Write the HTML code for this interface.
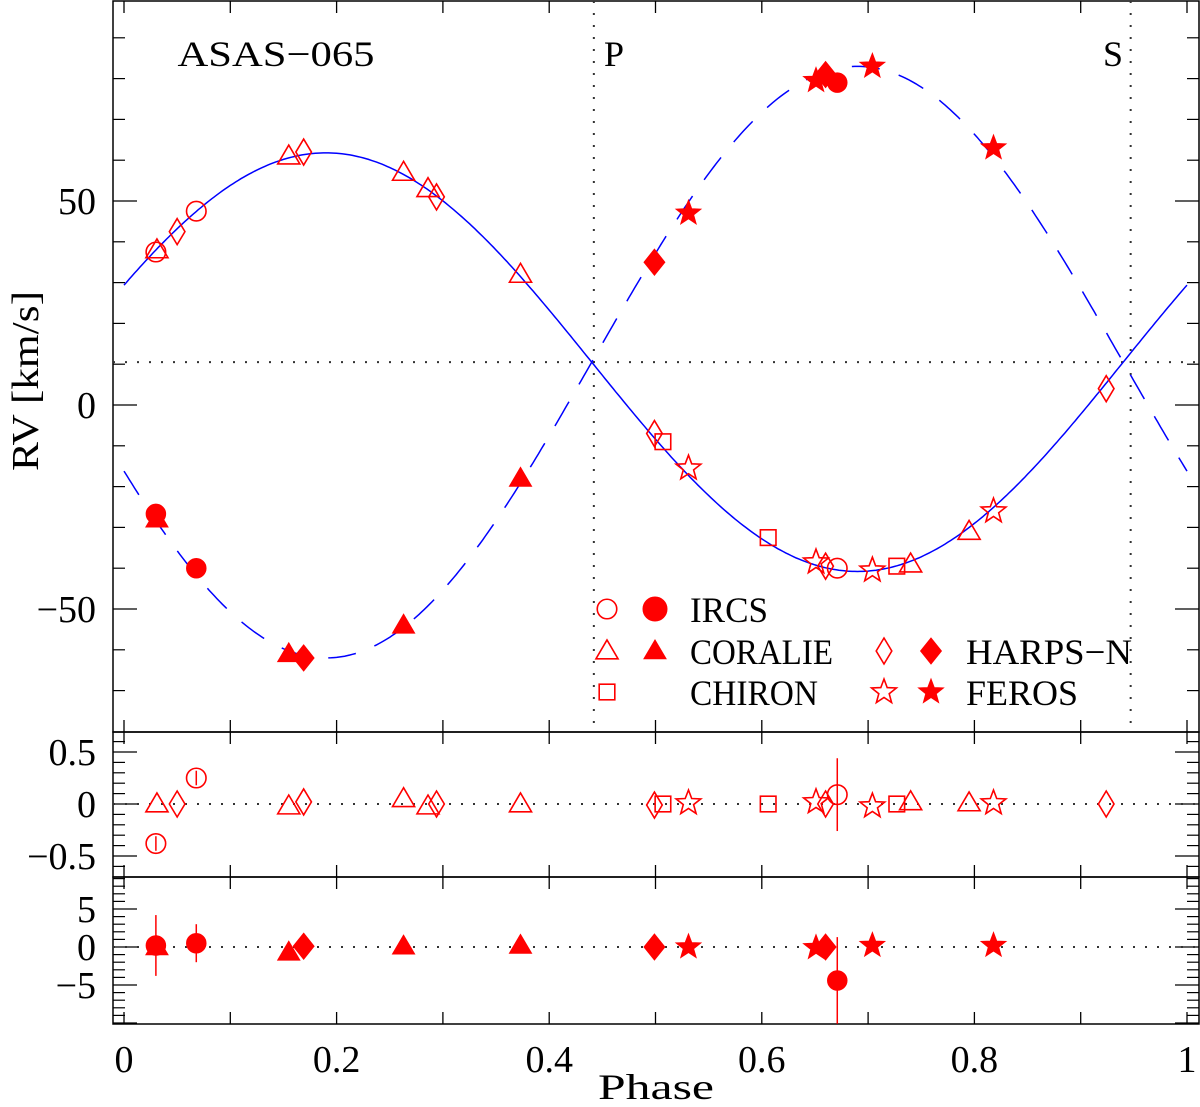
<!DOCTYPE html>
<html><head><meta charset="utf-8"><style>
body{margin:0;background:#fff}
svg text{font-family:"Liberation Serif",serif;fill:#000}
</style></head><body>
<svg id="c" width="1200" height="1102" viewBox="0 0 1200 1102" xmlns="http://www.w3.org/2000/svg"></svg>
<script>
// ---- data ----
const gamma=[10.5];
const K1=[51.3];
const K2=[72.5];
const phaseMax=[0.19];
const ircsPh=[0.030,0.068,0.671];
const ircsV1=[37.5,47.5,-40];
const ircsV2=[-26.7,-40,79];
const ircsR1=[-0.38,0.25,0.09];
const ircsE1=[0.07,0.07,0.35];
const ircsR2=[0.2,0.5,-4.4];
const ircsE2=[4,2.5,5.7];
const corOpenPh=[0.031,0.155,0.263,0.286,0.373,0.740,0.795];
const corOpenV=[38,61,57,53,32,-39,-31];
const corOpenR=[0.0,-0.02,0.05,-0.02,0.0,0.02,0.01];
const corFillPh=[0.031,0.155,0.263,0.373];
const corFillV=[-28,-61,-54,-18];
const corFillR=[0.0,-0.7,0.1,0.2];
const harOpenPh=[0.050,0.169,0.294,0.499,0.660,0.924];
const harOpenV=[42.5,62,51,-7,-39.5,4];
const harOpenR=[0.0,0.02,0.0,-0.01,0.0,0.0];
const harFillPh=[0.169,0.499,0.660];
const harFillV=[-62,35,81];
const harFillR=[0.1,0.0,0.0];
const chiPh=[0.507,0.606,0.727];
const chiV=[-9,-32.5,-39.5];
const chiR=[0.0,0.0,0.0];
const ferOpenPh=[0.531,0.651,0.704,0.818];
const ferOpenV=[-15.5,-38.5,-40.5,-26];
const ferOpenR=[0.01,0.02,-0.02,0.01];
const ferFillPh=[0.531,0.651,0.704,0.818];
const ferFillV=[47,79.5,83,63];
const ferFillR=[0.0,-0.1,0.2,0.2];
const xTicks=[0,0.2,0.4,0.6,0.8,1];
const yTicks=[-50,0,50];
const r1Ticks=[-0.5,0,0.5];
const r2Ticks=[-5,0,5];
const markP=[0.442]; const markS=[0.947];

const NS="http://www.w3.org/2000/svg";
const svg=document.getElementById('c');
const L=113,R=1199;
const X=p=>124+p*1063;
const Ym=v=>405-v*4.08;
const Y1=v=>804-v*104;
const Y2=v=>947-v*7.6;
function el(t,a,parent){const e=document.createElementNS(NS,t);for(const k in a)e.setAttribute(k,a[k]);(parent||svg).appendChild(e);return e;}
function txt(s,x,y,size,anchor,name,len){const t=el('text',{x:x,y:y,'font-size':size,'text-anchor':anchor||'middle'});t.textContent=s;
if(len){t.setAttribute('textLength',len);t.setAttribute('lengthAdjust','spacingAndGlyphs');}

return t;}

// panels
const panels=[[1,732,Ym,-80.1,99.3,10,50,'main-panel'],[732,877,Y1,-0.7,0.7,0.1,0.5,'residual-primary-panel'],[877,1024,Y2,-10.2,10.2,1,5,'residual-secondary-panel']];
panels.forEach(([t,b,F,lo,hi,mi,ma,nm])=>{
  const r=el('rect',{x:L,y:t,width:R-L,height:b-t,fill:'none',stroke:'#000','stroke-width':1.5});
  
  
  for(let p=0;p<=1.0001;p+=0.1){const x=X(p);
    el('line',{x1:x,x2:x,y1:b,y2:b-12,stroke:'#000','stroke-width':1.3});
    el('line',{x1:x,x2:x,y1:t,y2:t+12,stroke:'#000','stroke-width':1.3});}
  for(let v=Math.ceil(lo/mi)*mi;v<=hi;v+=mi){const y=F(v);if(y<t+1||y>b-1)continue;
    const major=Math.abs(v/ma-Math.round(v/ma))<1e-6;const len=major?24:12;
    el('line',{x1:L,x2:L+len,y1:y,y2:y,stroke:'#000','stroke-width':1.2});
    el('line',{x1:R,x2:R-len,y1:y,y2:y,stroke:'#000','stroke-width':1.2});}
});
// tick labels
xTicks.forEach(p=>txt(String(p),X(p),1072,38,'middle','x-tick-label'));
yTicks.forEach(v=>txt(v<0?'\u2212'+(-v):String(v),96,Ym(v)+13,38,'end','y-tick-label'));
r1Ticks.forEach(v=>txt(v<0?'\u2212'+(-v):String(v),96,Y1(v)+13,38,'end','residual1-tick-label'));
r2Ticks.forEach(v=>txt(v<0?'\u2212'+(-v):String(v),96,Y2(v)+13,38,'end','residual2-tick-label'));
txt('Phase',656,1099,36,'middle','x-axis-title',116);
const yt=txt('RV [km/s]',0,0,38,'middle','y-axis-title',180);yt.setAttribute('transform','translate(38,381) rotate(-90)');
txt('ASAS\u2212065',276,66,36,'middle','star-name-label',197);
txt('P',614,66,36,'middle','primary-eclipse-label');
txt('S',1113,66,36,'middle','secondary-eclipse-label');

// dotted reference lines
const dot={stroke:'#333','stroke-width':2,'stroke-dasharray':'2 10',fill:'none'};
[[L,Ym(gamma[0]),R,Ym(gamma[0]),'gamma-line'],[X(markP[0]),1,X(markP[0]),732,'primary-eclipse-line'],[X(markS[0]),1,X(markS[0]),732,'secondary-eclipse-line'],[L,Y1(0),R,Y1(0),'residual1-zero-line'],[L,Y2(0),R,Y2(0),'residual2-zero-line']].forEach(a=>{
  const l=el('line',Object.assign({x1:a[0],y1:a[1],x2:a[2],y2:a[3]},dot));
  
  });

// model curves
let d1='',d2='';
for(let i=0;i<=400;i++){const p=i/400;const c=Math.cos(2*Math.PI*(p-phaseMax[0]));
  d1+=(i?'L':'M')+X(p).toFixed(1)+','+Ym(gamma[0]+K1[0]*c).toFixed(1);
  d2+=(i?'L':'M')+X(p).toFixed(1)+','+Ym(gamma[0]-K2[0]*c).toFixed(1);}
const c1=el('path',{d:d1,stroke:'#0000ff','stroke-width':1.5,fill:'none'});


const c2=el('path',{d:d2,stroke:'#0000ff','stroke-width':1.5,fill:'none','stroke-dasharray':'28 20'});



// markers
function marker(type,filled,x,y,s,name){
  const st=filled?{fill:'#ff0000',stroke:'#ff0000','stroke-width':1}:{fill:'none',stroke:'#ff0000','stroke-width':1.6};
  let e;
  if(type==='circle')e=el('circle',Object.assign({cx:x,cy:y,r:s*0.75},st));
  else if(type==='tri'){e=el('polygon',Object.assign({points:`${x},${y-s*0.85} ${x-s*0.85},${y+s*0.6} ${x+s*0.85},${y+s*0.6}`},st));}
  else if(type==='sq')e=el('rect',Object.assign({x:x-s*0.6,y:y-s*0.6,width:s*1.2,height:s*1.2},st));
  else if(type==='dia'){const w=filled?s*0.8:s*0.6;e=el('polygon',Object.assign({points:`${x},${y-s} ${x+w},${y} ${x},${y+s} ${x-w},${y}`},st));}
  else if(type==='star'){let pts='';for(let k=0;k<10;k++){const rr=k%2?s*0.42:s;const a=-Math.PI/2+k*Math.PI/5;pts+=(x+rr*Math.cos(a)).toFixed(1)+','+(y+rr*Math.sin(a)).toFixed(1)+' ';}
    e=el('polygon',Object.assign({points:pts},st));}
  
  
  return e;}
function errbar(x,y1,y2,name){const l=el('line',{x1:x,x2:x,y1:y1,y2:y2,stroke:'#ff0000','stroke-width':1.5});
  
  }
const S=13;
function series(type,ph,vm,filled,res,F,name,err){
  ph.forEach((p,i)=>{marker(type,filled,X(p),Ym(vm[i]),S,name+'-point');
    if(err){errbar(X(p),F(res[i]+err[i]),F(res[i]-err[i]),name+'-residual-error');}
    marker(type,filled,X(p),F(res[i]),S,name+'-residual');});}
series('circle',ircsPh,ircsV1,false,ircsR1,Y1,'ircs-primary',ircsE1);
series('circle',ircsPh,ircsV2,true,ircsR2,Y2,'ircs-secondary',ircsE2);
series('tri',corOpenPh,corOpenV,false,corOpenR,Y1,'coralie-primary');
series('tri',corFillPh,corFillV,true,corFillR,Y2,'coralie-secondary');
series('dia',harOpenPh,harOpenV,false,harOpenR,Y1,'harpsn-primary');
series('dia',harFillPh,harFillV,true,harFillR,Y2,'harpsn-secondary');
series('sq',chiPh,chiV,false,chiR,Y1,'chiron-primary');
series('star',ferOpenPh,ferOpenV,false,ferOpenR,Y1,'feros-primary');
series('star',ferFillPh,ferFillV,true,ferFillR,Y2,'feros-secondary');

// legend
const lg=[['circle',607,655,609,'IRCS',690,78],['tri',607,655,651,'CORALIE',690,143],['sq',607,null,692,'CHIRON',690,128],['dia',884,931,651,'HARPS\u2212N',966,166],['star',884,931,692,'FEROS',966,112]];
lg.forEach(([t,xo,xf,y,lab,xt,len])=>{
  marker(t,false,xo,y,13,'legend-'+lab.toLowerCase()+'-open');
  if(xf)marker(t,true,xf,y,t==='circle'?16:13,'legend-'+lab.toLowerCase()+'-filled');
  txt(lab,xt,y+13,36,'start','legend-entry',len);});
</script>
</body></html>
